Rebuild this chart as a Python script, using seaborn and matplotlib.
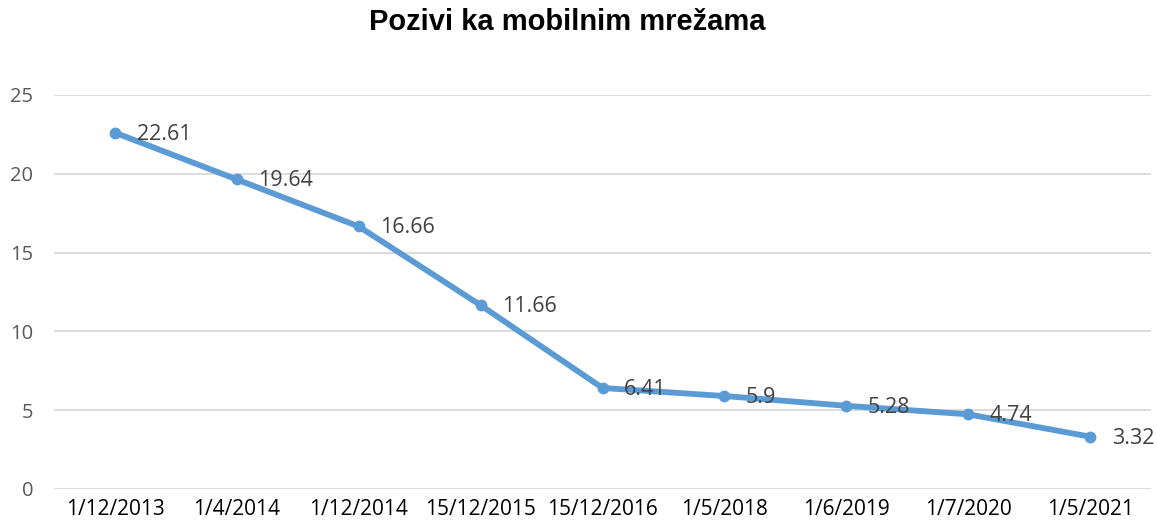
import matplotlib
matplotlib.use("Agg")
import matplotlib.pyplot as plt
import seaborn as sns
import pandas as pd

dates = ["1/12/2013", "1/4/2014", "1/12/2014", "15/12/2015", "15/12/2016",
         "1/5/2018", "1/6/2019", "1/7/2020", "1/5/2021"]
values = [22.61, 19.64, 16.66, 11.66, 6.41, 5.9, 5.28, 4.74, 3.32]
value_labels = ["22.61", "19.64", "16.66", "11.66", "6.41", "5.9", "5.28", "4.74", "3.32"]
title = "Pozivi ka mobilnim mrežama"
yticks = [0, 5, 10, 15, 20, 25]

sns.set_theme(style="white")
plt.rcParams["font.family"] = ["Open Sans", "DejaVu Sans"]

df = pd.DataFrame({"pos": range(len(dates)), "value": values})

fig = plt.figure(figsize=(11.57, 5.31), dpi=100)
ax = fig.add_axes([0.0467, 0.0791, 0.9481, 0.742])

color = "#5B9BD5"
sns.lineplot(data=df, x="pos", y="value", ax=ax, color=color, linewidth=4.2,
             marker="o", markersize=8.5, markeredgewidth=0, solid_capstyle="round")

for x, y, lab in zip(df["pos"], df["value"], value_labels):
    ax.annotate(lab, (x, y), xytext=(15.5, -1), textcoords="offset points",
                ha="left", va="center", fontsize=15.5, color="#404040")

ax.set_xlim(-0.5, len(dates) - 0.5)
ax.set_ylim(0, 25)
ax.set_yticks(yticks)
ax.set_yticklabels([str(t) for t in yticks], fontsize=14.5, color="#595959")
ax.set_xticks(range(len(dates)))
ax.set_xticklabels(dates, fontsize=15, color="#000000")
ax.tick_params(axis="y", length=0, pad=15)
ax.tick_params(axis="x", length=0, pad=7)
ax.yaxis.grid(True, color="#D9D9D9", linewidth=1.3)
ax.set_axisbelow(True)
for s in ax.spines.values():
    s.set_visible(False)
ax.set_xlabel("")
ax.set_ylabel("")

fig.text(0.49, 0.958, title, ha="center", va="center", fontsize=21,
         fontweight="bold", color="#000000", family=["Liberation Sans", "DejaVu Sans"])

fig.savefig("out.png", dpi=100, facecolor="white")
